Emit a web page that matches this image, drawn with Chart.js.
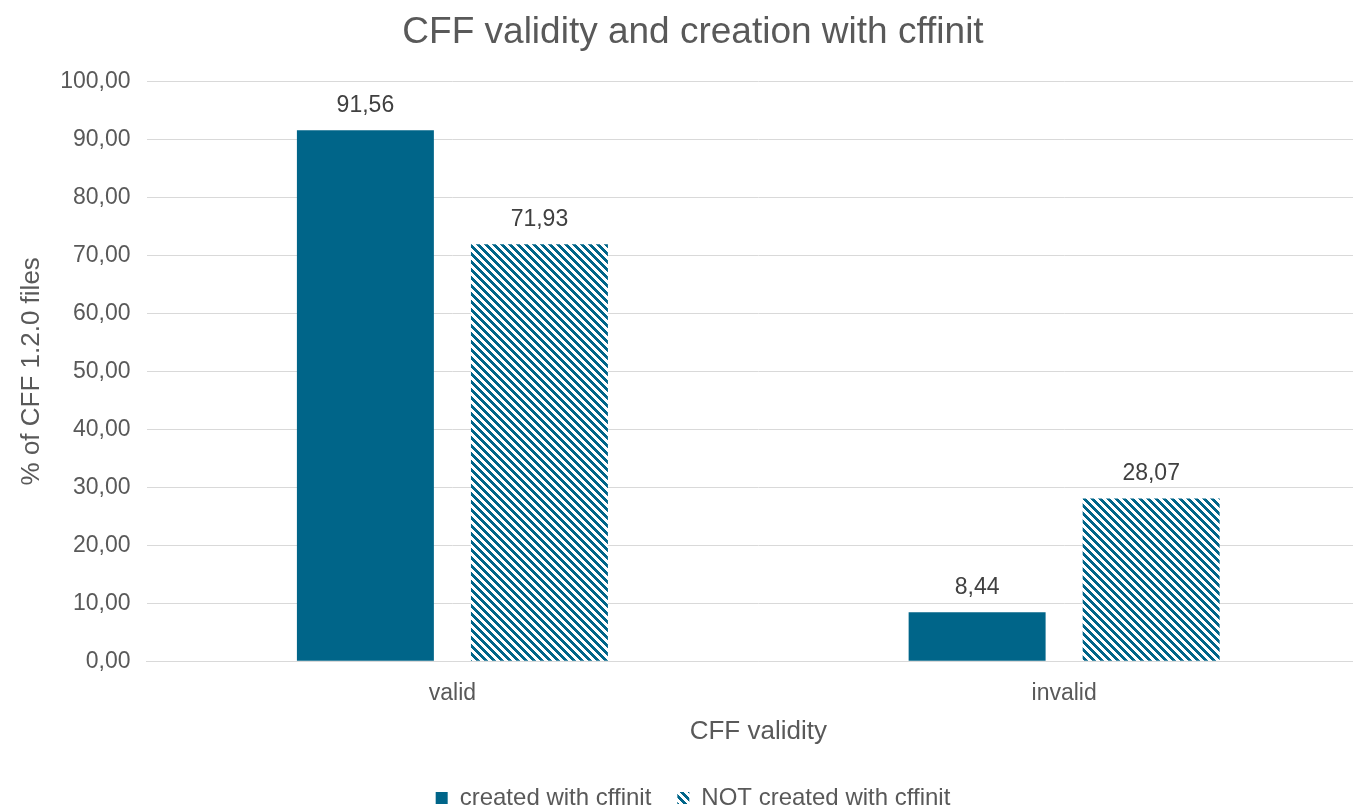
<!DOCTYPE html>
<html>
<head>
<meta charset="utf-8">
<script src="https://cdn.jsdelivr.net/npm/chart.js@4.4.1/dist/chart.umd.min.js"></script>
<style>
  html, body { margin: 0; padding: 0; background: #fff; overflow: hidden; }
  #wrap { width: 1380px; height: 809px; }
</style>
</head>
<body>
<div id="wrap"><canvas id="grafico-cff"></canvas></div>
<script>
// Chart labels
const categorias = ['valid', 'invalid'];
const serieCreados = [91.56, 8.44];
const serieNoCreados = [71.93, 28.07];
const nombresSeries = ['created with cffinit', 'NOT created with cffinit'];

const azul = '#006589';

function formatoComa(v) {
    return Number(v).toFixed(2).replace('.', ',');
}

// patron de rayas diagonales (pixel a pixel, como Excel)
function patronRayas() {
    var c = document.createElement('canvas');
    c.width = 8; c.height = 8;
    var g = c.getContext('2d');
    g.fillStyle = '#fff';
    g.fillRect(0, 0, 8, 8);
    g.fillStyle = azul;
    for (var y = 0; y < 8; y++) {
        for (var x = 0; x < 8; x++) {
            if (((x - y) % 8 + 8) % 8 < 4) g.fillRect(x, y, 1, 1);
        }
    }
    return document.getElementById('grafico-cff').getContext('2d').createPattern(c, 'repeat');
}

// etiquetas sobre las barras
const etiquetasPlugin = {
    id: 'etiquetas',
    afterDatasetsDraw(chart) {
        var ctx = chart.ctx;
        ctx.save();
        ctx.font = '23px "Liberation Sans", Arial, sans-serif';
        ctx.fillStyle = '#404040';
        ctx.textAlign = 'center';
        ctx.textBaseline = 'bottom';
        chart.data.datasets.forEach(function(ds, i) {
            chart.getDatasetMeta(i).data.forEach(function(bar, j) {
                ctx.fillText(formatoComa(ds.data[j]), bar.x, bar.y - 13);
            });
        });
        ctx.restore();
    }
};

Chart.defaults.font.family = '"Liberation Sans", Arial, sans-serif';
Chart.defaults.color = '#595959';

const data = {
    labels: categorias,
    datasets: [{
        label: nombresSeries[0],
        data: serieCreados,
        backgroundColor: azul,
        borderWidth: 0
    }, {
        label: nombresSeries[1],
        data: serieNoCreados,
        backgroundColor: patronRayas(),
        borderWidth: 0
    }]
};

const config = {
    type: 'bar',
    data: data,
    options: {
        responsive: true,
        maintainAspectRatio: false,
        animation: false,
        categoryPercentage: 0.569,
        barPercentage: 0.787,
        layout: { padding: { left: 16, right: 10, top: 0, bottom: -11 } },
        plugins: {
            title: {
                display: true,
                text: 'CFF validity and creation with cffinit',
                font: { size: 37, weight: 'normal' },
                color: '#595959',
                padding: { top: 11, bottom: 26 }
            },
            legend: {
                position: 'bottom',
                labels: {
                    boxWidth: 12,
                    boxHeight: 12,
                    font: { size: 24 },
                    color: '#595959',
                    padding: 6,
                    generateLabels: function(chart) {
                        // un poco mas de espacio entre los dos items
                        var items = Chart.defaults.plugins.legend.labels.generateLabels(chart);
                        items[0].text = items[0].text + '\u00a0'.repeat(3);
                        return items;
                    }
                }
            },
            tooltip: { enabled: false }
        },
        scales: {
            x: {
                grid: { display: false },
                border: { color: '#d9d9d9' },
                ticks: { font: { size: 23 }, color: '#595959', padding: 11 },
                title: {
                    display: true,
                    text: 'CFF validity',
                    font: { size: 26 },
                    color: '#595959',
                    padding: { top: -3, bottom: 33 }
                }
            },
            y: {
                min: 0,
                max: 100,
                ticks: {
                    stepSize: 10,
                    font: { size: 23 },
                    color: '#595959',
                    padding: 16,
                    callback: function(v) { return formatoComa(v); }
                },
                grid: { color: '#d9d9d9', drawTicks: false },
                border: { display: false },
                title: {
                    display: true,
                    text: '% of CFF 1.2.0 files',
                    font: { size: 26 },
                    color: '#595959',
                    padding: { top: 0, bottom: -3 }
                }
            }
        }
    },
    plugins: [etiquetasPlugin]
};

var myChart = new Chart(document.getElementById('grafico-cff'), config);
</script>
</body>
</html>
